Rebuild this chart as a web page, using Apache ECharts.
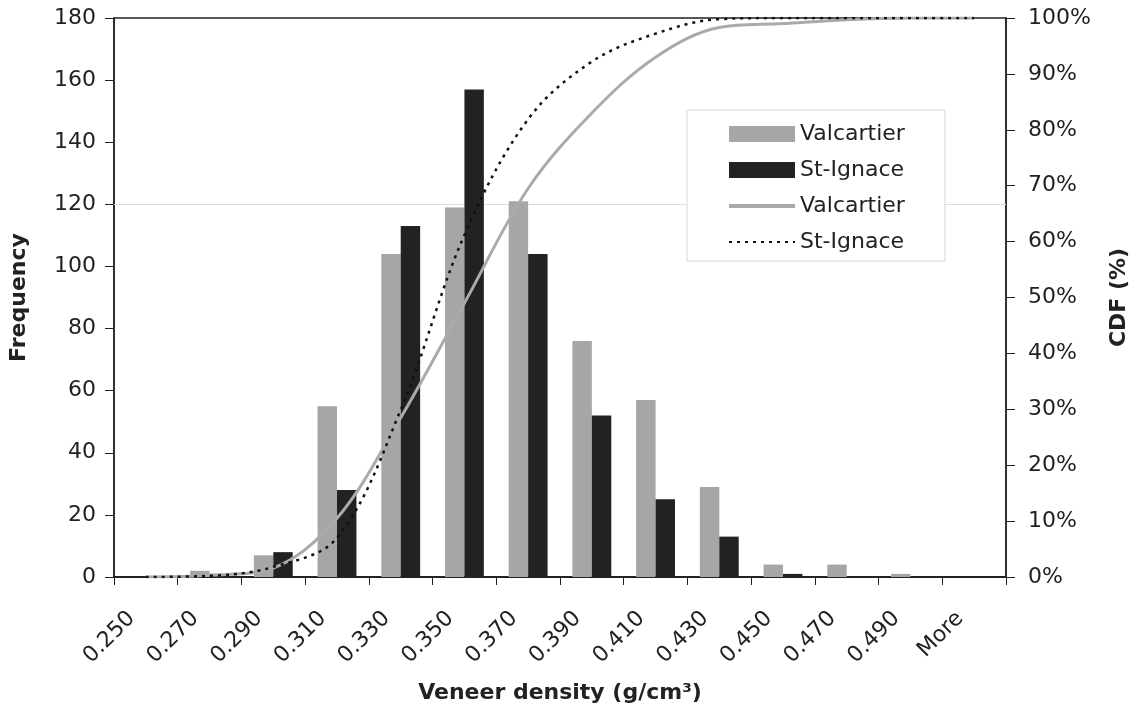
<!DOCTYPE html>
<html>
<head>
<meta charset="utf-8">
<script src="https://cdn.jsdelivr.net/npm/echarts@6/dist/echarts.min.js"></script>
<style>
html,body{margin:0;padding:0;background:#fff;}
#chart{width:1138px;height:718px;}
</style>
</head>
<body>
<div id="chart"></div>
<script>
const categories = ['0.250','0.270','0.290','0.310','0.330','0.350','0.370','0.390','0.410','0.430','0.450','0.470','0.490','More'];
const valcartierFreq = [0, 2, 7, 55, 104, 119, 121, 76, 57, 29, 4, 4, 1, 0];
const stIgnaceFreq   = [0, 1, 8, 28, 113, 157, 104, 52, 25, 13, 1, 0, 0, 0];
const valcartierCdf  = [0, 0.3, 1.6, 10.5, 28.5, 49.0, 69.5, 83.0, 93.0, 98.3, 99.0, 99.7, 100, 100];
const stIgnaceCdf    = [0, 0.2, 1.8, 7.0, 29.9, 61.2, 81.9, 92.2, 97.2, 99.8, 100, 100, 100, 100];
const freqTicks = { min: 0, max: 180, interval: 20 };
const cdfTicks  = { min: 0, max: 100, interval: 10 };

const FONT = 'DejaVu Sans';
const chart = echarts.init(document.getElementById('chart'), null, { renderer: 'canvas' });
chart.setOption({
  backgroundColor: '#ffffff',
  animation: false,
  textStyle: { fontFamily: FONT },
  grid: {
    left: 113, right: 131, top: 18, bottom: 141,
    show: true, borderColor: '#222', borderWidth: 1.5, backgroundColor: 'transparent'
  },
  legend: {
    orient: 'vertical',
    left: 687, top: 110,
    padding: [13, 40, 8, 40],
    itemWidth: 66, itemHeight: 16, itemGap: 14,
    backgroundColor: '#ffffff',
    borderColor: '#d8d8d8', borderWidth: 1,
    z: 10,
    textStyle: { fontFamily: FONT, fontSize: 22, color: '#222' },
    formatter: function (n) { return n.replace(' CDF', ''); },
    data: [
      { name: 'Valcartier', icon: 'rect' },
      { name: 'St-Ignace', icon: 'rect' },
      { name: 'Valcartier CDF', itemStyle: { opacity: 0 }, lineStyle: { width: 4 } },
      { name: 'St-Ignace CDF', itemStyle: { opacity: 0 } }
    ]
  },
  xAxis: {
    type: 'category',
    data: categories,
    boundaryGap: true,
    name: 'Veneer density (g/cm³)',
    nameLocation: 'middle',
    nameGap: 105,
    nameTextStyle: { fontFamily: FONT, fontSize: 22, fontWeight: 'bold', color: '#222' },
    axisLine: { lineStyle: { color: '#222', width: 2 } },
    axisTick: { show: true, alignWithLabel: false, length: 8, lineStyle: { color: '#222' } },
    axisLabel: { rotate: 45, fontSize: 22, color: '#222', margin: 24, padding: [0, 20, 0, 0], fontFamily: FONT, interval: 0 },
    splitLine: { show: false }
  },
  yAxis: [
    {
      type: 'value',
      min: freqTicks.min, max: freqTicks.max, interval: freqTicks.interval,
      name: 'Frequency',
      nameLocation: 'middle',
      nameRotate: 90,
      nameGap: 84,
      nameTextStyle: { fontFamily: FONT, fontSize: 22, fontWeight: 'bold', color: '#222' },
      axisLine: { show: true, lineStyle: { color: '#222', width: 1.5 } },
      axisTick: { show: true, length: 9, lineStyle: { color: '#222' } },
      axisLabel: { fontSize: 22, color: '#222', margin: 18, fontFamily: FONT },
      splitLine: { show: false }
    },
    {
      type: 'value',
      position: 'right',
      min: cdfTicks.min, max: cdfTicks.max, interval: cdfTicks.interval,
      name: 'CDF (%)',
      nameLocation: 'middle',
      nameRotate: 90,
      nameGap: 102,
      nameTextStyle: { fontFamily: FONT, fontSize: 22, fontWeight: 'bold', color: '#222' },
      axisLine: { show: true, lineStyle: { color: '#222', width: 1.5 } },
      axisTick: { show: true, length: 9, lineStyle: { color: '#222' } },
      axisLabel: { fontSize: 22, color: '#222', margin: 22, fontFamily: FONT, formatter: '{value}%' },
      splitLine: { show: false }
    }
  ],
  series: [
    {
      name: 'gridline', type: 'line', data: [], z: 1, silent: true,
      markLine: {
        z: 1,
        silent: true, symbol: 'none', label: { show: false },
        lineStyle: { color: '#dcdcdc', type: 'solid', width: 1 },
        data: [{ yAxis: 120 }]
      }
    },
    {
      name: 'Valcartier', type: 'bar', data: valcartierFreq, yAxisIndex: 0,
      barGap: '0%', barCategoryGap: '39%', z: 2,
      itemStyle: { color: '#a6a6a6' }
    },
    {
      name: 'St-Ignace', type: 'bar', data: stIgnaceFreq, yAxisIndex: 0,
      barGap: '0%', barCategoryGap: '39%', z: 2,
      itemStyle: { color: '#222222' }
    },
    {
      name: 'Valcartier CDF', type: 'line', data: valcartierCdf, yAxisIndex: 1,
      smooth: 0.35, symbol: 'none', showSymbol: false, z: 3,
      lineStyle: { color: '#aaaaaa', width: 3 },
      itemStyle: { color: '#aaaaaa' }
    },
    {
      name: 'St-Ignace CDF', type: 'line', data: stIgnaceCdf, yAxisIndex: 1,
      smooth: 0.35, symbol: 'none', showSymbol: false, z: 4,
      lineStyle: { color: '#111111', width: 2.5, type: [3, 5] },
      itemStyle: { color: '#111111' }
    }
  ]
});
</script>
</body>
</html>
